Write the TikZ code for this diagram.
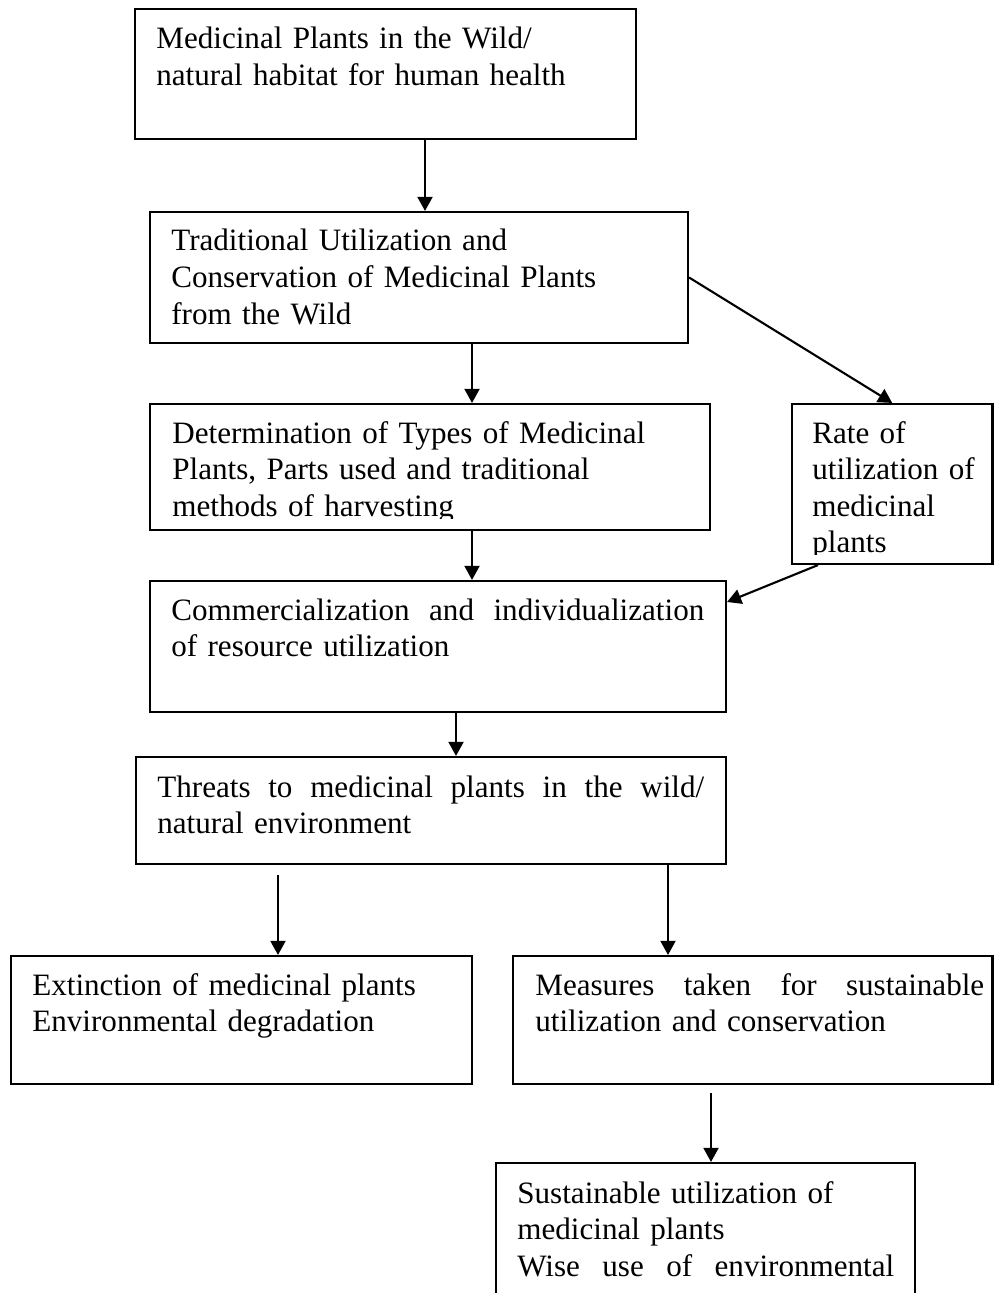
\documentclass[tikz,border=0pt]{standalone}
\usepackage{fontspec}
\setmainfont{Liberation Serif}
\usetikzlibrary{arrows.meta,fit}
\newcommand{\spreadline}[2]{\hbox to #1{\spaceskip=0.25em plus 1fil\relax #2}}

\begin{document}
\begin{tikzpicture}[x=0.02cm, y=-0.02cm,
    box/.style={draw, line width=1.2pt, inner sep=0pt},
    txt/.style={anchor=base west, inner sep=0pt, align=left, text width=12cm,
      font=\fontsize{17.7}{20.8}\selectfont},
    flow/.style={line width=1.2pt, -{Triangle[length=8pt,width=8.5pt]}}]
    \useasboundingbox (0,0) rectangle (994,1293);
    \node[box, fit={(135,9) (636,139)}] (b1) {};
    \node[box, fit={(150,212) (688,343)}] (b2) {};
    \node[box, fit={(150,404) (710,530)}] (b3) {};
    \node[box, fit={(792,404) (992.5,564)}] (b4) {};
    \node[box, fit={(150,581) (726,712)}] (b5) {};
    \node[box, fit={(136,757) (726,864)}] (b6) {};
    \node[box, fit={(11,956) (472,1084)}] (b7) {};
    \node[box, fit={(513,956) (992.5,1084)}] (b8) {};
    \node[box, fit={(496,1163) (915,1330)}] (b9) {};
    \node[txt] (t1) at (156,49) {Medicinal Plants in the Wild/\\natural habitat for human health};
    \node[txt] (t2) at (171,251) {Traditional Utilization and\\Conservation of Medicinal Plants\\from the Wild};
    \begin{scope}
      \clip (150,404) rectangle (710,518);
      \node[txt] (t3) at (172,443) {Determination of Types of Medicinal\\Plants, Parts used and traditional\\methods of harvesting};
    \end{scope}
    \begin{scope}
      \clip (792,404) rectangle (992,554);
      \node[txt] (t4) at (812,443) {Rate of\\utilization of\\medicinal\\plants};
    \end{scope}
    \node[txt] (t5) at (171,620) {\spreadline{10.66cm}{Commercialization and individualization}\\of resource utilization};
    \node[txt] (t6) at (157,797) {\spreadline{10.94cm}{Threats to medicinal plants in the wild/}\\natural environment};
    \node[txt] (t7) at (32,995) {Extinction of medicinal plants\\Environmental degradation};
    \node[txt] (t8) at (535,995) {\spreadline{8.98cm}{Measures taken for sustainable}\\utilization and conservation};
    \node[txt] (t9) at (517,1203) {Sustainable utilization of\\medicinal plants\\\spreadline{7.54cm}{Wise use of environmental}};
    \foreach \from/\to/\xx in {b1/b2/425, b2/b3/472, b3/b5/472, b5/b6/456, b6/b8/668}
      \draw[flow] (\from.south -| \xx,0) -- (\to.north -| \xx,0);
    \draw[flow, shorten <=0.2cm] (b6.south -| 278,0) -- (b7.north -| 278,0);
    \draw[flow, shorten <=0.16cm] (b8.south -| 711,0) -- (b9.north -| 711,0);
    \draw[flow] (b2.east) -- (b4.north);
    \draw[flow] (b4.south -| 818,0) -- (b5.east |- 0,602);
  \end{tikzpicture}
\end{document}
